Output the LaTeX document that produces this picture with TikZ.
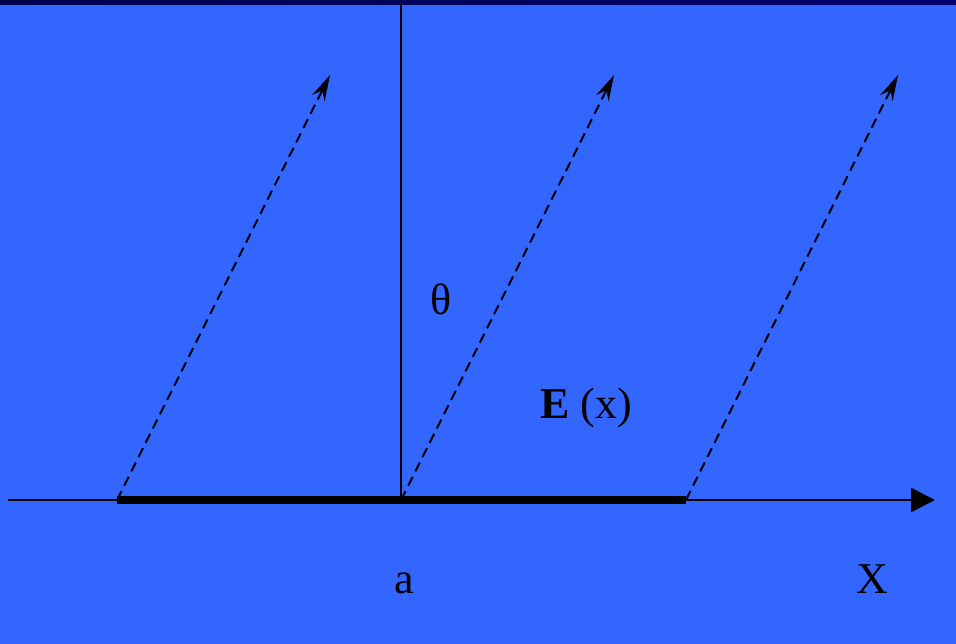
\documentclass[tikz,border=0pt]{standalone}
\usepackage{fontspec}
\setmainfont{Liberation Serif}
\usetikzlibrary{arrows.meta}
\definecolor{bgblue}{HTML}{3366FF}
\definecolor{navyL}{HTML}{000050}
\definecolor{navyR}{HTML}{000070}
\tikzset{
  ray/.style={dashed, dash pattern=on 10pt off 6pt, line width=2pt, -{Stealth[length=26pt,width=14pt,inset=9pt]}},
  lbl/.style={font=\fontsize{44}{46}\selectfont, inner sep=0pt, anchor=base}
}
\begin{document}
\begin{tikzpicture}[x=1pt,y=-1pt]
\useasboundingbox (0,0) rectangle (956,644);
\fill[bgblue] (0,0) rectangle (956,644);
\shade[left color=navyL,right color=navyR] (0,0) rectangle (956,5);
% coordinates
\coordinate (ax0) at (8,500);
\coordinate (ax1) at (935,500);
\coordinate (s1) at (117,500);
\coordinate (s2) at (401,500);
\coordinate (s3) at (686,500);
\coordinate (t1) at (330,75);
\coordinate (t2) at (614,75);
\coordinate (t3) at (898,75);
\coordinate (vtop) at (401,4);
% axis
\draw[line width=2.5pt, -{Triangle[length=24pt,width=24pt]}] (ax0) -- (ax1);
\draw[line width=7.5pt] (s1) -- (s3);
\draw[line width=2.5pt] (vtop) -- (s2);
% rays
\draw[ray] (s1) -- (t1);
\draw[ray] (s2) -- (t2);
\draw[ray] (s3) -- (t3);
% labels
\node[lbl] (theta) at (441,315) {θ};
\node[lbl] (E) at (586,418) {\textbf{E} (x)};
\node[lbl] (a) at (404,593) {a};
\node[lbl] (X) at (872,593) {X};
\end{tikzpicture}
\end{document}
